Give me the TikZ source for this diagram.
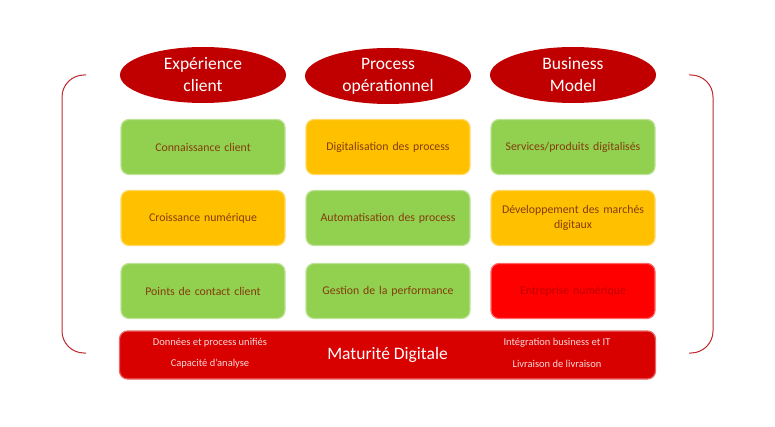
\documentclass[tikz,border=0pt]{standalone}
\usepackage{fontspec}
\setmainfont{Carlito}
\usetikzlibrary{shapes.geometric}

\definecolor{pillarred}{HTML}{C00000}
\definecolor{basered}{HTML}{D90000}
\definecolor{okgreen}{HTML}{92D050}
\definecolor{midorange}{HTML}{FFC000}
\definecolor{alertred}{HTML}{FF0000}
\definecolor{blocktext}{HTML}{843C0C}
\definecolor{bracketred}{HTML}{C0282E}

\begin{document}
\begin{tikzpicture}[x=1pt, y=-1pt,
    every node/.style = {align=center},
    pillar/.style={ellipse, fill=pillarred, text=white, inner sep=0pt,
      minimum width=166pt, minimum height=56pt,
      font=\fontsize{17.5}{22}\selectfont},
    block/.style={rectangle, rounded corners=8pt, line width=1.2pt,
      minimum width=164pt, minimum height=55pt, text width=156pt,
      font=\fontsize{11.8}{15}\selectfont, text=blocktext},
    block_green/.style={block, fill=okgreen, draw=okgreen!60!white},
    block_orange/.style={block, fill=midorange, draw=midorange!60!white},
    block_red/.style={block, fill=alertred, draw=alertred!60!white, text=pillarred},
    base/.style={rectangle, rounded corners=8pt, fill=basered, draw=basered!60!white,
      line width=1.2pt, minimum width=536pt, minimum height=48pt},
    base_note/.style={text=white!85!basered, font=\fontsize{10.5}{12}\selectfont},
    bracket/.style={draw=bracketred, line width=1pt, rounded corners=22pt},
    ]

    \useasboundingbox (0,0) rectangle (775,427);

    % pillars
    \node [pillar] (client) at (203,75) {Expérience\\client};
    \node [pillar] (process) at (388,76) {Process\\opérationnel};
    \node [pillar] (business) at (573,75) {Business\\Model};

    % first row
    \node [block_green] (connaissance) at (203,147) {Connaissance client};
    \node [block_orange] (digitalisation) at (388,147) {Digitalisation des process};
    \node [block_green] (services) at (573,147) {Services/produits digitalisés};

    % second row
    \node [block_orange] (croissance) at (203,218) {Croissance numérique};
    \node [block_green] (automatisation) at (388,218) {Automatisation des process};
    \node [block_orange] (marches) at (573,218) {Développement des marchés\\digitaux};

    % third row
    \node [block_green] (contact) at (203,291) {Points de contact client};
    \node [block_green] (performance) at (388,291) {Gestion de la performance};
    \node [block_red] (entreprise) at (573,291) {Entreprise numérique};

    % base
    \node [base] (maturite) at (387.5,355) {};
    \node [text=white, font=\fontsize{17.5}{20}\selectfont] (maturite_label) at (maturite.center) {Maturité Digitale};
    \node [base_note] (donnees) at (210,343) {Données et process unifiés};
    \node [base_note] (analyse) at (210,364) {Capacité d’analyse};
    \node [base_note] (integration) at (557,343) {Intégration business et IT};
    \node [base_note] (livraison) at (557,364) {Livraison de livraison};

    % brackets
    \draw [bracket] (86,75) -- (62,75) -- (62,353) -- (86,353);
    \draw [bracket] (689,75) -- (713,75) -- (713,353) -- (689,353);

\end{tikzpicture}
\end{document}
